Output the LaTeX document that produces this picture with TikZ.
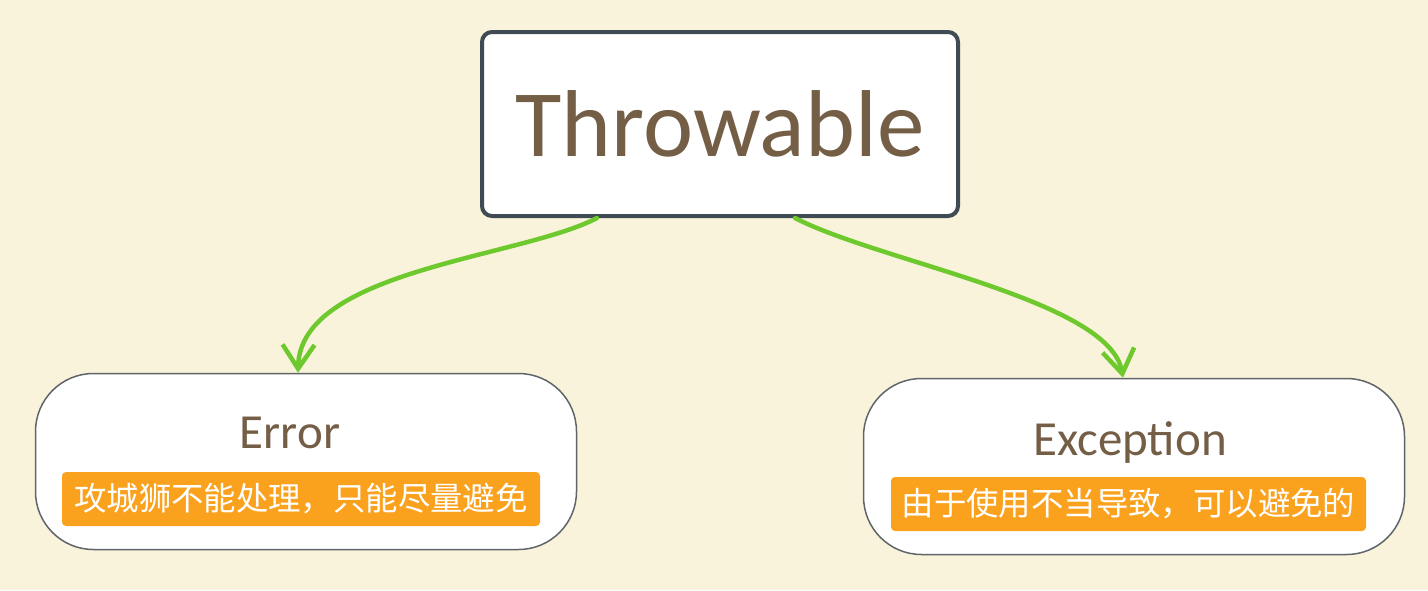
\documentclass[tikz,border=0pt]{standalone}
\usepackage{fontspec}
\setmainfont{Carlito}
\newfontfamily\cjk{Noto Sans CJK SC}
\usetikzlibrary{arrows.meta}
\definecolor{bg}{HTML}{FAF3DC}
\definecolor{linkgreen}{HTML}{6DC92D}
\definecolor{topborder}{HTML}{3F4A52}
\definecolor{nodeborder}{HTML}{5F6568}
\definecolor{brown}{HTML}{745E46}
\definecolor{notebg}{HTML}{FAA21E}
\tikzset{
  rootbox/.style={draw=topborder, line width=4pt, fill=white, rounded corners=10pt,
    minimum width=476pt, minimum height=184pt, inner sep=0pt, text=brown,
    font=\fontsize{95}{100}\selectfont},
  childbox/.style={draw=nodeborder, line width=1.5pt, fill=white, rounded corners=58pt,
    minimum width=541pt, minimum height=176pt, inner sep=0pt},
  childtitle/.style={anchor=base, text=brown, font=\fontsize{49}{52}\selectfont, inner sep=0pt},
  notebox/.style={fill=notebg, rounded corners=4pt, minimum width=478pt, minimum height=54pt,
    inner sep=0pt, text=white, font=\cjk\fontsize{32.4}{36}\selectfont},
  link/.style={draw=linkgreen, line width=4.5pt, line cap=round,
    -{Straight Barb[length=24pt, width=32pt, line width=4.5pt]}}
}
\begin{document}
\begin{tikzpicture}[x=1pt, y=-1pt]
\fill[bg] (0,0) rectangle (1428,590);
\useasboundingbox (0,0) rectangle (1428,590);
\node[rootbox] (root) at (720,124) {Throwable};
\node[childbox] (err) at (306,461.5) {};
\node[childtitle] (errtitle) at (290,448) {Error};
\node[notebox] (errnote) at (301,499) {攻城狮不能处理，只能尽量避免};
\node[childbox] (exc) at (1134,466.5) {};
\node[childtitle] (exctitle) at (1130,455) {Exception};
\node[notebox, minimum width=475pt] (excnote) at (1128.5,504) {由于使用不当导致，可以避免的};
\draw[link] ([xshift=-123pt]root.south) .. controls (520,258) and (300,270) .. ([xshift=-8pt]err.north);
\draw[link] ([xshift=75pt]root.south) .. controls (880,262) and (1110,300) .. ([xshift=-11pt]exc.north);
\end{tikzpicture}
\end{document}
